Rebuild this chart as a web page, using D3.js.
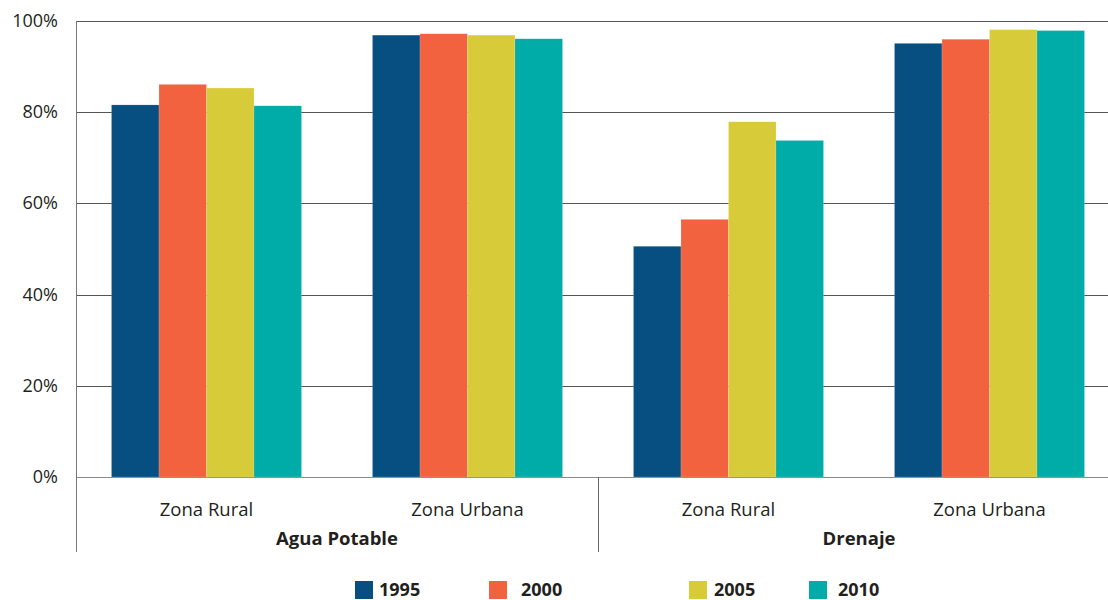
<!DOCTYPE html>
<html>
<head>
<meta charset="utf-8">
<script src="https://cdn.jsdelivr.net/npm/d3@7"></script>
<style>
  body { margin: 0; background: #fff; }
  text { font-family: "Open Sans", "Noto Sans", sans-serif; fill: #231f20; }
</style>
</head>
<body>
<div id="chart"></div>
<script>
// Data
var zones = ["Zona Rural", "Zona Urbana", "Zona Rural", "Zona Urbana"];
var groups = ["Agua Potable", "Agua Potable", "Drenaje", "Drenaje"];
var years = ["1995", "2000", "2005", "2010"];
var values1995 = [81.6, 96.9, 50.6, 95.1];
var values2000 = [86.1, 97.2, 56.5, 96.0];
var values2005 = [85.3, 96.9, 77.9, 98.1];
var values2010 = [81.4, 96.1, 73.8, 97.9];
var yTicks = [0, 20, 40, 60, 80, 100];

var series = [values1995, values2000, values2005, values2010];
var colors = ["#064f80", "#f2623f", "#d8cb3a", "#00aca7"];

var width = 1108, height = 600;
var plotLeft = 76, plotRight = 1120, plotTop = 21, plotBottom = 477;

var svg = d3.select("#chart")
    .append("svg")
    .attr("width", width)
    .attr("height", height);

var x0 = d3.scaleBand()
    .domain(d3.range(zones.length))
    .range([plotLeft, plotRight]);

var x1 = d3.scaleBand()
    .domain(years)
    .range([0, x0.bandwidth()])
    .paddingInner(0)
    .paddingOuter(0.747);

var y = d3.scaleLinear()
    .domain([0, 100])
    .range([plotBottom, plotTop]);

// Gridlines
svg.append("g")
    .selectAll("line")
    .data(yTicks)
    .enter().append("line")
    .attr("x1", plotLeft)
    .attr("x2", width)
    .attr("y1", d => Math.round(y(d)) + 0.5)
    .attr("y2", d => Math.round(y(d)) + 0.5)
    .attr("stroke", d => d === 0 ? "#8a8a8a" : "#555")
    .attr("stroke-width", 1);

// Y tick labels
svg.append("g")
    .selectAll("text")
    .data(yTicks)
    .enter().append("text")
    .attr("x", 58)
    .attr("y", d => y(d) + 6)
    .attr("text-anchor", "end")
    .style("font-size", "18px")
    .text(d => d + "%");

// Bars
var cat = svg.append("g")
    .selectAll("g")
    .data(zones)
    .enter().append("g")
    .attr("transform", (d, i) => `translate(${x0(i)},0)`);

cat.selectAll("rect")
    .data((d, i) => years.map((yr, k) => ({ year: yr, value: series[k][i], color: colors[k] })))
    .enter().append("rect")
    .attr("x", d => x1(d.year))
    .attr("width", x1.bandwidth())
    .attr("y", d => y(d.value))
    .attr("height", d => y(0) - y(d.value))
    .attr("fill", d => d.color)
    .attr("stroke", "#ffffff")
    .attr("stroke-opacity", 0.25)
    .attr("stroke-width", 0.6);

// Zone labels
svg.append("g")
    .selectAll("text")
    .data(zones)
    .enter().append("text")
    .attr("x", (d, i) => x0(i) + x0.bandwidth() / 2)
    .attr("y", 516)
    .attr("text-anchor", "middle")
    .style("font-size", "18.5px")
    .text(d => d);

// Group labels and separators
var groupNames = Array.from(new Set(groups));
var spans = groupNames.map(g => {
    var idx = d3.range(groups.length).filter(i => groups[i] === g);
    return { name: g, x0: x0(idx[0]), x1: x0(idx[idx.length - 1]) + x0.bandwidth() };
});

svg.append("g")
    .selectAll("text")
    .data(spans)
    .enter().append("text")
    .attr("x", d => (d.x0 + d.x1) / 2)
    .attr("y", 545)
    .attr("text-anchor", "middle")
    .style("font-size", "18.5px")
    .style("font-weight", "bold")
    .text(d => d.name);

svg.append("g")
    .selectAll("line")
    .data(spans.map(d => d.x1))
    .enter().append("line")
    .attr("x1", d => Math.round(d) + 0.5)
    .attr("x2", d => Math.round(d) + 0.5)
    .attr("y1", plotBottom)
    .attr("y2", 552)
    .attr("stroke", "#666");

// Y axis line
svg.append("line")
    .attr("x1", plotLeft + 0.5)
    .attr("x2", plotLeft + 0.5)
    .attr("y1", plotTop)
    .attr("y2", 552)
    .attr("stroke", "#777");

// Legend
var legendX = [355, 489, 689, 809];
var legendTextX = [379, 521, 714, 838];

var legend = svg.append("g")
    .selectAll("g")
    .data(years)
    .enter().append("g");

legend.append("rect")
    .attr("x", (d, i) => legendX[i])
    .attr("y", 581)
    .attr("width", 18)
    .attr("height", 18)
    .attr("fill", (d, i) => colors[i]);

legend.append("text")
    .attr("x", (d, i) => legendTextX[i])
    .attr("y", 596)
    .style("font-size", "18px")
    .style("font-weight", "bold")
    .text(d => d);
</script>
</body>
</html>
